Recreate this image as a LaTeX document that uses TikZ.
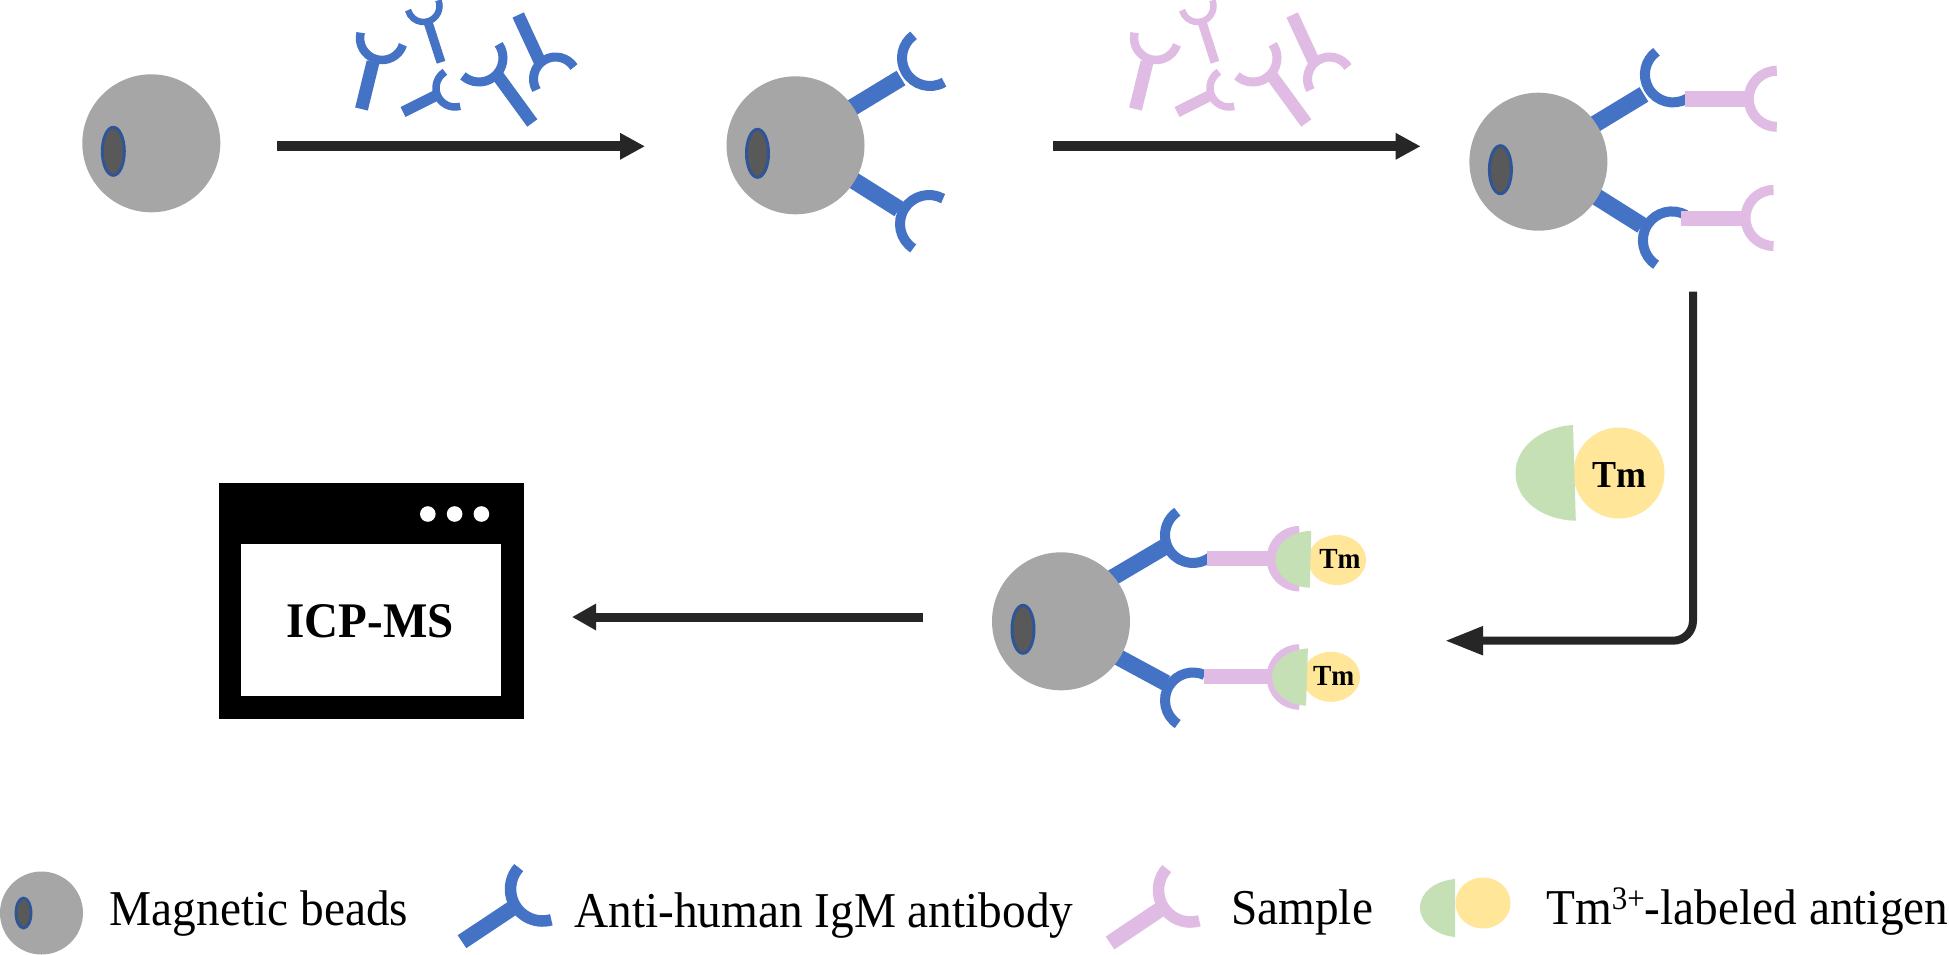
\documentclass[tikz,border=0pt]{standalone}
\usepackage{fontspec}
\setmainfont{Liberation Serif}
\usetikzlibrary{arrows.meta}
\definecolor{abblue}{HTML}{4472C4}
\definecolor{abpink}{HTML}{E0BBE3}
\definecolor{beadgray}{HTML}{A6A6A6}
\definecolor{holegray}{HTML}{595959}
\definecolor{holeline}{HTML}{2F5597}
\definecolor{agreen}{HTML}{C5E0B4}
\definecolor{ayellow}{HTML}{FFE699}
\definecolor{arrowdark}{HTML}{262626}
\tikzset{
  flow/.style={arrowdark,line width=#1},
  tmtext/.style={font=\bfseries\fontsize{#1}{#1}\selectfont,inner sep=0pt,yscale=1.06,transform shape},
  legendtext/.style={font=\fontsize{47.3}{50}\selectfont,anchor=base west,inner sep=0pt,yscale=1.06,transform shape},
}
% colour, stem width, arc width, stem base, stem top, arc centre, radius, start angle, end angle
\newcommand{\abody}[9]{%
  \draw[#1,line width=#2pt] (#4) -- (#5);
  \draw[#1,line width=#3pt] (#6) ++(#8:#7) arc[start angle=#8,end angle=#9,radius=#7];
}
% position, radius, hole dx, hole dy, hole rx, hole ry, hole line
\newcommand{\magbead}[7]{%
  \fill[beadgray] (#1) circle[radius=#2];
  \draw[holeline,fill=holegray,line width=#7pt] (#1) ++(#3,#4) circle[x radius=#5,y radius=#6];
}
\newcommand{\scatterset}[1]{%
  \abody{#1}{13}{8.5}{361.5,109}{373,62}{382,38}{22}{18}{194}
  \abody{#1}{9}{6.5}{441,62.3}{428,22}{423.5,6}{16}{-21}{165}
  \abody{#1}{11}{7.5}{403,112}{437,95}{455,88}{19}{74}{238}
  \abody{#1}{12.5}{9}{532.3,123}{498,76}{479,58}{24}{-35}{132}
  \abody{#1}{12.5}{9}{518.2,15}{540,62}{555.5,79}{22}{150}{327}
}
\newcommand{\twobodies}{%
  \abody{abblue}{17}{10}{845,112}{901,78}{930,58}{28}{60}{234}
  \abody{abblue}{17}{10}{845,175}{899,209}{929,224}{29}{123}{299}
}
\begin{document}
\begin{tikzpicture}[x=1pt,y=-1pt]
\useasboundingbox (0,0) rectangle (1949,954);
\fill[white] (0,0) rectangle (1949,954);

% first row
\magbead{151.3,143.3}{69}{-38}{8}{11}{24}{3}
\coordinate (a1s) at (277,146.3);
\coordinate (a1e) at (645,146.3);
\draw[flow=10pt,-{Triangle[length=25pt,width=25pt]}] (a1s) -- (a1e);
\scatterset{abblue}

\twobodies
\magbead{795.5,145.3}{69}{-38}{8}{11}{24}{3}
\coordinate (a2s) at (1053,146.3);
\coordinate (a2e) at (1420.6,146.3);
\draw[flow=10pt,-{Triangle[length=25pt,width=25pt]}] (a2s) -- (a2e);
\begin{scope}[xshift=774pt]
\scatterset{abpink}
\end{scope}

\begin{scope}[shift={(742.9,16.4)}]
\twobodies
\magbead{795.5,145.3}{69}{-38}{8}{11}{24}{3}
\end{scope}
\abody{abpink}{15.5}{10}{1684.7,99}{1746,99}{1776.8,98.8}{28}{90}{270}
\abody{abpink}{15.5}{10}{1681.4,218.3}{1743,218.3}{1773.5,218}{28}{90}{270}

% elbow arrow
\coordinate (a3s) at (1693,291.7);
\coordinate (a3c) at (1693,640.7);
\coordinate (a3e) at (1445,640.7);
\draw[flow=8pt,rounded corners=20pt,-{Triangle[length=38pt,width=27pt]}] (a3s) -- (a3c) -- (a3e);

% free antigen
\fill[ayellow] (1619,473) circle[radius=45.5];
\fill[agreen] (1573,425) .. controls (1540,427) and (1515.5,448) .. (1515.5,473)
  .. controls (1515.5,500) and (1542,520) .. (1575.8,520.7) -- cycle;
\node[tmtext=36] (tmbig) at (1619,475) {Tm};

% fourth bead
\abody{abblue}{16.5}{10}{1105,582}{1166,546}{1193,535}{28}{53}{236}
\abody{abblue}{16.5}{10}{1105,650}{1166,683}{1193,700.5}{28}{123}{294}
\magbead{1061,621.3}{69}{-38}{8}{11}{24}{3}
\abody{abpink}{15}{9.5}{1207,558.7}{1272,558.7}{1299.3,558.7}{28}{90}{270}
\abody{abpink}{15}{9.5}{1203.6,676.8}{1268,676.8}{1299.3,677}{28}{90}{270}
\fill[ayellow] (1337,560) circle[x radius=29,y radius=25];
\fill[agreen] (1311.2,530.7) .. controls (1290,532) and (1275.4,544) .. (1275.4,559.3)
  .. controls (1275.4,575) and (1290,587) .. (1309.8,587.7) -- cycle;
\node[tmtext=27.5] (tmtop) at (1340,559.3) {Tm};
\fill[ayellow] (1331,676.8) circle[x radius=29,y radius=25];
\fill[agreen] (1307.9,648.3) .. controls (1287,650) and (1272,662) .. (1272,676.7)
  .. controls (1272,692) and (1287,705) .. (1306,705.7) -- cycle;
\node[tmtext=27.5] (tmbot) at (1333.7,675.5) {Tm};

\coordinate (a4s) at (923,617);
\coordinate (a4e) at (572,617);
\draw[flow=9pt,-{Triangle[length=24pt,width=25pt]}] (a4s) -- (a4e);

% instrument
\fill[black] (219.2,483.3) rectangle (523.5,718.7);
\fill[white] (241.2,544.3) rectangle (500.6,696);
\fill[white] (427.8,514) circle[radius=7.8];
\fill[white] (454.6,514) circle[radius=7.8];
\fill[white] (481.4,514) circle[radius=7.8];
\node[tmtext=47] (icp) at (370,621.7) {ICP-MS};

% legend
\magbead{41.5,913}{41.5}{-18}{0}{7.5}{15}{2.8}
\node[legendtext] (lg1) at (109.7,925) {Magnetic beads};
\abody{abblue}{15.5}{11.5}{462,941.7}{512,908.4}{542.5,889}{32}{74}{222}
\node[legendtext] (lg2) at (574,927.3) {Anti-human IgM antibody};
\abody{abpink}{15.5}{11.5}{1110,943}{1160,909.5}{1190.5,890}{32}{74}{222}
\node[legendtext] (lg3) at (1231,924) {Sample};
\fill[ayellow] (1483,903) circle[x radius=27.5,y radius=25.5];
\fill[agreen] (1455,879) .. controls (1435,881) and (1420,892) .. (1420,908)
  .. controls (1420,922) and (1435,935) .. (1455,937) -- cycle;
\node[legendtext] (lg4) at (1546,924) {Tm\raisebox{14pt}{\fontsize{31}{31}\selectfont 3+}-labeled antigen};
\end{tikzpicture}
\end{document}
